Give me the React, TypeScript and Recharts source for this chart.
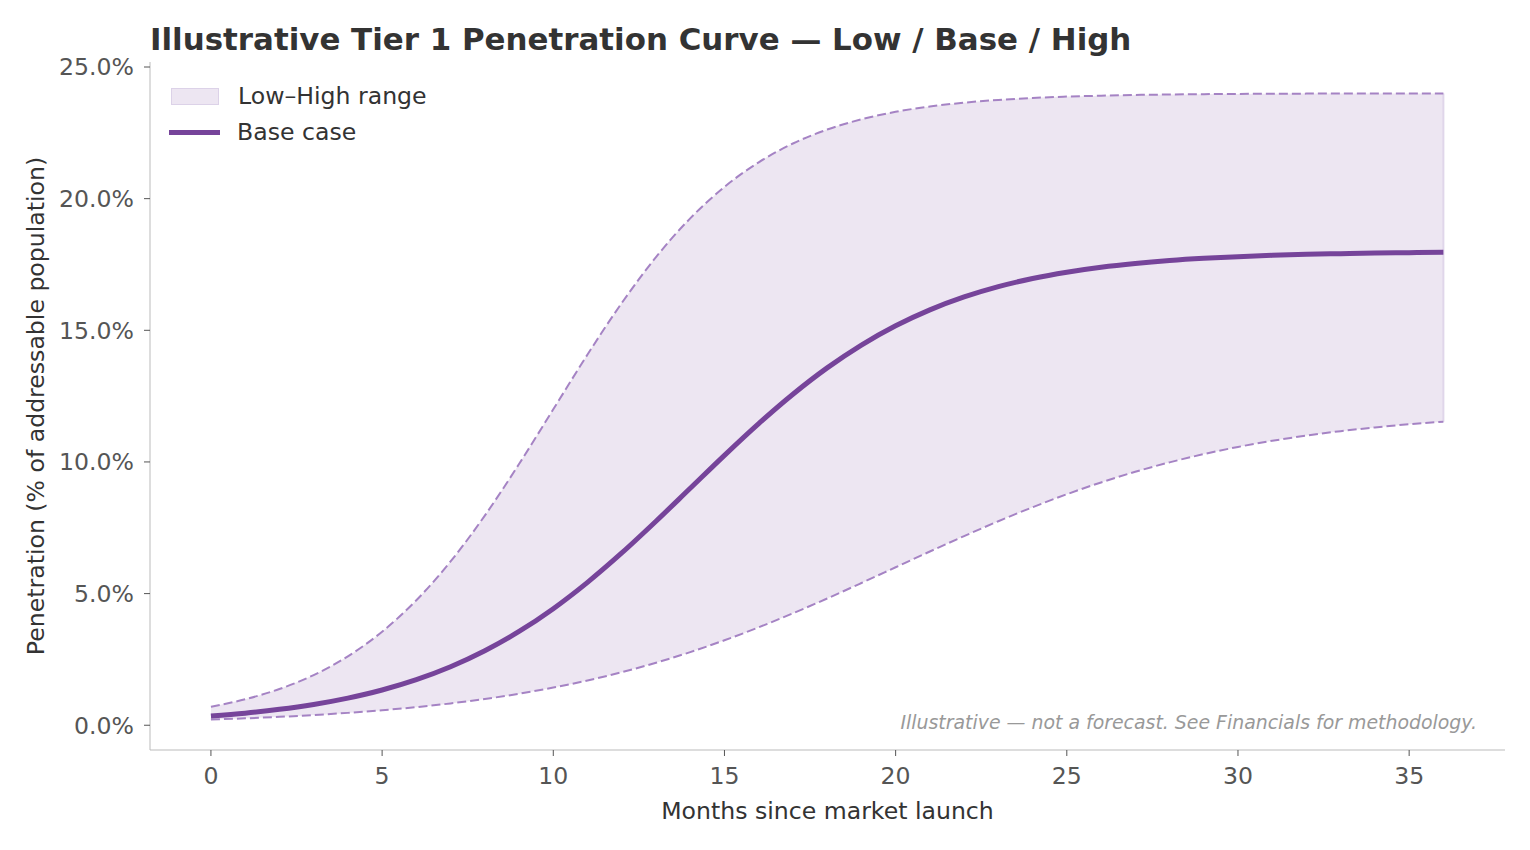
import React from 'react';
import {
  ComposedChart,
  Area,
  Line,
  XAxis,
  YAxis,
  ReferenceLine,
} from 'recharts';

const months = [
  0, 1, 2, 3, 4, 5, 6, 7, 8, 9, 10, 11, 12, 13, 14, 15, 16, 17, 18,
  19, 20, 21, 22, 23, 24, 25, 26, 27, 28, 29, 30, 31, 32, 33, 34, 35, 36,
];

const lowCase = [
  0.216, 0.263, 0.319, 0.388, 0.47, 0.569, 0.688, 0.83, 0.998, 1.197, 1.43,
  1.702, 2.016, 2.374, 2.778, 3.227, 3.72, 4.252, 4.815, 5.402, 6.0, 6.598,
  7.184, 7.748, 8.28, 8.773, 9.222, 9.626, 9.984, 10.298, 10.57, 10.803,
  11.002, 11.17, 11.312, 11.431, 11.53,
];

const baseCase = [
  0.35, 0.46, 0.604, 0.791, 1.032, 1.34, 1.732, 2.222, 2.828, 3.561, 4.428,
  5.428, 6.543, 7.748, 9.0, 10.252, 11.456, 12.572, 13.572, 14.439, 15.172,
  15.777, 16.268, 16.659, 16.968, 17.208, 17.396, 17.539, 17.65, 17.734,
  17.798, 17.847, 17.884, 17.912, 17.934, 17.95, 17.962,
];

const highCase = [
  0.703, 0.986, 1.376, 1.906, 2.618, 3.553, 4.748, 6.221, 7.963, 9.921, 12.0,
  14.079, 16.037, 17.779, 19.252, 20.447, 21.381, 22.094, 22.624, 23.013,
  23.297, 23.5, 23.645, 23.749, 23.823, 23.875, 23.911, 23.938, 23.956,
  23.969, 23.978, 23.985, 23.989, 23.992, 23.995, 23.996, 23.997,
];

const xTicks = [0, 5, 10, 15, 20, 25, 30, 35];
const yTicks = [0, 5, 10, 15, 20, 25];

const title = 'Illustrative Tier 1 Penetration Curve \u2014 Low / Base / High';
const note = 'Illustrative \u2014 not a forecast. See Financials for methodology.';

const data = months.map((m, i) => ({
  month: m,
  low: lowCase[i],
  base: baseCase[i],
  high: highCase[i],
  range: [lowCase[i], highCase[i]],
}));

const last = months.length - 1;

const FONT = '"DejaVu Sans", sans-serif';
const PURPLE = '#76449a';
const DASH = '#a583c4';
const FILL = '#ede6f2';
const FS = 23.6;

function LegendBox() {
  return (
    <div
      style={{
        position: 'absolute',
        left: 169,
        top: 78,
        fontFamily: FONT,
        fontSize: FS,
        color: '#333',
      }}
    >
      <div style={{ display: 'flex', alignItems: 'center', height: 36 }}>
        <div
          style={{
            width: 46,
            height: 15,
            background: FILL,
            border: '1px solid #dcd2e8',
            marginLeft: 2,
            marginRight: 19,
          }}
        />
        <span>Low–High range</span>
      </div>
      <div style={{ display: 'flex', alignItems: 'center', height: 36 }}>
        <div
          style={{
            width: 51,
            height: 5,
            background: PURPLE,
            marginRight: 17,
          }}
        />
        <span>Base case</span>
      </div>
    </div>
  );
}

export default function App() {
  return (
    <div
      style={{
        position: 'absolute',
        left: 0,
        top: 0,
        width: 1530,
        height: 850,
        background: '#fff',
        fontFamily: FONT,
      }}
    >
      <ComposedChart
        width={1530}
        height={850}
        data={data}
        margin={{ top: 62, right: 25, left: 0, bottom: 0 }}
      >
        <XAxis
          dataKey="month"
          type="number"
          domain={[-1.78, 37.8]}
          ticks={xTicks}
          allowDataOverflow
          height={100}
          stroke="#bbbbbb"
          tickLine={{ stroke: '#555' }}
          tickSize={6}
          tickMargin={11}
          tick={{ fill: '#555', fontSize: FS, fontFamily: FONT }}
          label={{
            value: 'Months since market launch',
            position: 'insideBottom',
            offset: 31,
            fill: '#333',
            fontSize: FS,
            fontFamily: FONT,
          }}
        />
        <YAxis
          type="number"
          domain={[-0.94, 25.19]}
          ticks={yTicks}
          allowDataOverflow
          width={150}
          stroke="#bbbbbb"
          tickLine={{ stroke: '#555' }}
          tickSize={6}
          tickMargin={10}
          tickFormatter={(v) => `${Number(v).toFixed(1)}%`}
          tick={{ fill: '#555', fontSize: FS, fontFamily: FONT }}
        />
        <Area
          dataKey="range"
          type="monotone"
          fill={FILL}
          fillOpacity={1}
          stroke="none"
          isAnimationActive={false}
          activeDot={false}
        />
        <ReferenceLine
          segment={[
            { x: months[last], y: lowCase[last] },
            { x: months[last], y: highCase[last] },
          ]}
          stroke="#e0d6ea"
          strokeWidth={2}
        />
        <Line
          dataKey="high"
          type="monotone"
          stroke={DASH}
          strokeWidth={2}
          strokeDasharray="9 4"
          dot={false}
          activeDot={false}
          isAnimationActive={false}
        />
        <Line
          dataKey="low"
          type="monotone"
          stroke={DASH}
          strokeWidth={2}
          strokeDasharray="9 4"
          dot={false}
          activeDot={false}
          isAnimationActive={false}
        />
        <Line
          dataKey="base"
          type="monotone"
          stroke={PURPLE}
          strokeWidth={5}
          dot={false}
          activeDot={false}
          isAnimationActive={false}
        />
      </ComposedChart>
      <LegendBox />
      <svg
        width={1530}
        height={850}
        style={{ position: 'absolute', left: 0, top: 0, pointerEvents: 'none' }}
      >
        <text
          x={150}
          y={50}
          fontFamily={FONT}
          fontWeight="bold"
          fontSize={30.9}
          fill="#333"
        >
          {title}
        </text>
        <text
          x={36}
          y={406}
          transform="rotate(-90 36 406)"
          textAnchor="middle"
          dominantBaseline="central"
          fontFamily={FONT}
          fontSize={FS}
          fill="#333"
        >
          Penetration (% of addressable population)
        </text>
        <text
          x={1477}
          y={729}
          textAnchor="end"
          fontFamily={FONT}
          fontStyle="italic"
          fontSize={18.9}
          fill="#999"
        >
          {note}
        </text>
      </svg>
    </div>
  );
}
